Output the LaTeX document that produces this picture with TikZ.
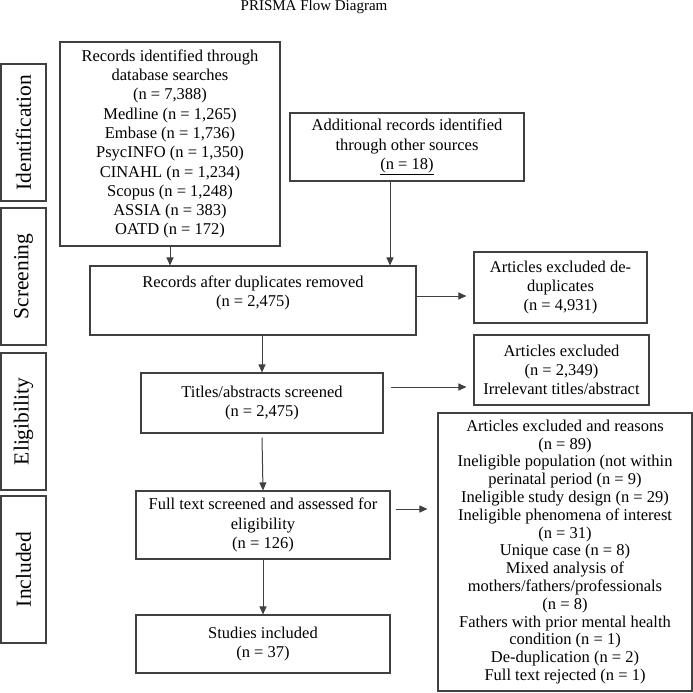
\documentclass[tikz,border=0pt]{standalone}
\usepackage{fontspec}
\setmainfont{Liberation Serif}
\usetikzlibrary{calc,arrows.meta}

\begin{document}
\begin{tikzpicture}[x=1pt, y=-1pt,
    box/.style={rectangle, draw=black!75, line width=1.1pt, align=center, inner sep=2pt, font=\fontsize{16.5}{19.3}\selectfont},
    phase/.style={rectangle, draw=black!75, line width=1.1pt, rotate=90, minimum height=45, inner sep=0pt, font=\fontsize{21.5}{24}\selectfont},
    arrow/.style={-{Stealth[length=8pt,width=7pt,inset=0pt]}, draw=black!75, line width=1pt}
]
    \useasboundingbox (0,0) rectangle (693,693);
    \node[font=\fontsize{15}{18}\selectfont] (title) at (314,7) {PRISMA Flow Diagram};

    % phases
    \node[phase, minimum width=137] (ident) at (23.5,132.5) {Identification};
    \node[phase, minimum width=137] (screen) at (23.5,276.5) {Screening};
    \node[phase, minimum width=137] (elig) at (23.5,421.5) {Eligibility};
    \node[phase, minimum width=147] (incl) at (23.5,569.5) {Included};

    % main flow
    \node[box, minimum width=220, minimum height=204] (db) at (170,144) {Records identified through\\ database searches\\ (n = 7,388)\\ Medline (n = 1,265)\\ Embase (n = 1,736)\\ PsycINFO (n = 1,350)\\ CINAHL (n = 1,234)\\ Scopus (n = 1,248)\\ ASSIA (n = 383)\\ OATD (n = 172)};
    \node[box, minimum width=234, minimum height=68] (other) at (407,147) {Additional records identified\\ through other sources\\ \underline{(n = 18)}};
    \node[box, minimum width=326, minimum height=69] (dedup) at (253,300.5) {Records after duplicates removed\\ (n = 2,475)\\ \mbox{}};
    \node[box, minimum width=242, minimum height=60] (titles) at (262,403) {Titles/abstracts screened\\ (n = 2,475)};
    \node[box, minimum width=254, minimum height=68] (fulltext) at (263,525) {Full text screened and assessed for\\ eligibility\\ (n = 126)};
    \node[box, minimum width=254, minimum height=58] (included) at (263,644) {Studies included\\ (n = 37)};

    % exclusions
    \node[box, minimum width=173, minimum height=71] (exdup) at (560.5,287.5) {Articles excluded de-\\ duplicates\\ (n = 4,931)};
    \node[box, minimum width=175, minimum height=70] (extitles) at (561.5,370) {Articles excluded\\ (n = 2,349)\\ Irrelevant titles/abstract};
    \node[box, minimum width=254, minimum height=278, font=\fontsize{16.5}{17.8}\selectfont] (exfull) at (565,552) {Articles excluded and reasons\\ (n = 89)\\ Ineligible population (not within\\ perinatal period (n = 9)\\ Ineligible study design (n = 29)\\ Ineligible phenomena of interest\\ (n = 31)\\ Unique case (n = 8)\\ Mixed analysis of\\ mothers/fathers/professionals\\ (n = 8)\\ Fathers with prior mental health\\ condition (n = 1)\\ De-duplication (n = 2)\\ Full text rejected (n = 1)};

    \draw[arrow] (db.south) -- (db.south |- dedup.north);
    \draw[arrow] ($(other.south)+(-17,0)$) -- ($(other.south |- dedup.north)+(-17,0)$);
    \draw[arrow] (titles.north |- dedup.south) -- (titles.north);
    \draw[arrow] ($(titles.south)+(0,4)$) -- (fulltext.north);
    \draw[arrow] (fulltext.south) -- (included.north);

    \draw[arrow] ($(dedup.east)+(0,-4.5)$) -- ($(exdup.west)+(-7,8.5)$);
    \draw[arrow] ($(titles.east)+(7,-16)$) -- ($(extitles.west)+(-7,17)$);
    \draw[arrow] ($(fulltext.east)+(5,-16)$) -- ($(exfull.west)+(-10,-43)$);
\end{tikzpicture}
\end{document}
